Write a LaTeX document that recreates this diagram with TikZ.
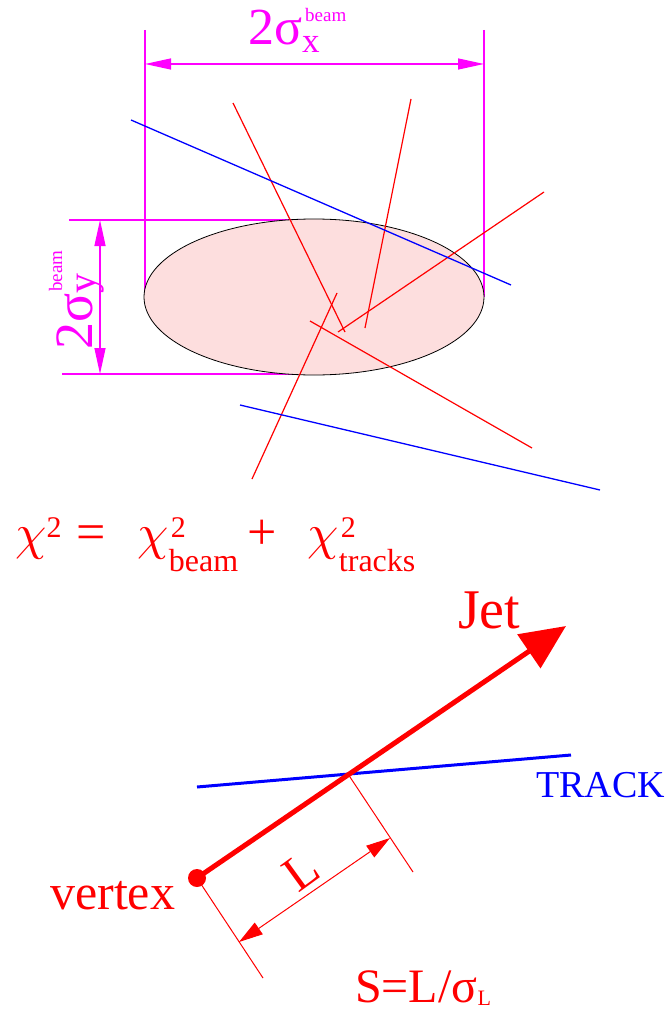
\documentclass[tikz,border=0pt]{standalone}
\usepackage{graphicx}
\usepackage{fontspec}
\setmainfont{Liberation Serif}
\usetikzlibrary{arrows.meta}
\definecolor{dimcol}{rgb}{1,0,1}
\definecolor{spotfill}{RGB}{253,222,222}
\newcommand{\fs}[1]{\fontsize{#1}{#1}\selectfont}
\newcommand{\putat}[2]{\rlap{\hspace{#1pt}#2}}
\newcommand{\chisym}{\scalebox{5}{\fs{10}$\chi$}}
\newcommand{\chisub}[2]{\rlap{\raisebox{12pt}{\fs{30}\hspace{2pt}#2}}\raisebox{-22pt}{\fs{32}#1}}
\tikzset{
  dimline/.style={dimcol, line width=1.3pt},
  dimarrow/.style={dimline, {Triangle[length=26pt,width=11pt]}-{Triangle[length=26pt,width=11pt]}},
  trk/.style={red, line width=1.2pt},
  btrk/.style={blue, line width=1.3pt},
  lbl/.style={anchor=base west, inner sep=0pt},
}
\begin{document}
\begin{tikzpicture}[x=1pt, y=-1pt]
    \useasboundingbox (0,0) rectangle (670,1011);

    % beam spot
    \coordinate (xl) at (145,30);
    \coordinate (xr) at (484,30);
    \coordinate (xlb) at (145,297);
    \coordinate (xrb) at (484,297);
    \coordinate (yt) at (69,220);
    \coordinate (yte) at (315,220);
    \coordinate (yb) at (62,374);
    \coordinate (ybe) at (324,374);
    \draw[dimline] (xl) -- (xlb);
    \draw[dimline] (xr) -- (xrb);
    \draw[dimline] (yt) -- (yte);
    \draw[dimline] (yb) -- (ybe);
    \draw[dimarrow] (145,64) coordinate (ax1) -- (484,64) coordinate (ax2);
    \draw[dimarrow] (100,220) coordinate (ay1) -- (100,374) coordinate (ay2);
    \filldraw[fill=spotfill, draw=black, line width=0.8pt]
        (314,297) ellipse [x radius=170pt, y radius=78pt];

    \node[lbl, dimcol] (sigx) at (248,45)
        {\fs{52}2σ\rlap{\raisebox{-8pt}{\fs{35}x}}\hspace{3pt}\raisebox{23pt}{\fs{19}beam}};
    \node[lbl, dimcol, rotate=90] (sigy) at (92,350)
        {\fs{54}2σ\rlap{\raisebox{-3pt}{\fs{40}y}}\hspace{2pt}\raisebox{30pt}{\fs{19}beam}};

    % tracks
    \draw[trk] (233,103) coordinate (ta1) -- (345,332) coordinate (ta2);
    \draw[trk] (411,99) coordinate (tb1) -- (365,328) coordinate (tb2);
    \draw[trk] (544,192) coordinate (tc1) -- (338,332) coordinate (tc2);
    \draw[trk] (337,293) coordinate (td1) -- (252,479) coordinate (td2);
    \draw[trk] (310,321) coordinate (te1) -- (532,448) coordinate (te2);
    \draw[btrk] (131,120) coordinate (tf1) -- (511,285) coordinate (tf2);
    \draw[btrk] (240,405) coordinate (tg1) -- (600,490) coordinate (tg2);

    \node[lbl, red] (chisq) at (15,549)
        {\fs{52}\putat{0}{\chisym}\putat{31}{\raisebox{12pt}{\fs{30}2}}\putat{61}{=}%
         \putat{122}{\chisym\chisub{beam}{2}}\putat{232}{+}\putat{292}{\chisym\chisub{tracks}{2}}%
         \hspace{410pt}};

    % jet and decay length
    \coordinate (vtx) at (197,878);
    \coordinate (jettip) at (566,626);
    \coordinate (cross) at (348,774);
    \coordinate (trk1) at (197,787);
    \coordinate (trk2) at (571,755);
    \coordinate (vtxp) at (263,978);
    \coordinate (crossp) at (413,872);
    \coordinate (lstart) at (239,942);
    \coordinate (lend) at (390,838);

    \draw[blue, line width=3pt] (trk1) -- (trk2);
    \draw[red, line width=5pt, -{Triangle[length=45pt,width=40pt]}] (vtx) -- (jettip);
    \fill[red] (vtx) circle (9pt);
    \draw[red, line width=1pt] (vtx) -- (vtxp);
    \draw[red, line width=1pt] (cross) -- (crossp);
    \draw[red, line width=1pt, {Triangle[length=24pt,width=14pt]}-{Triangle[length=24pt,width=14pt]}] (lstart) -- (lend);

    \node[lbl, red] (jet) at (458,628) {\fs{56}Jet};
    \node[lbl, blue] (track) at (536,797) {\fs{38}TRACK};
    \node[lbl, red] (vertex) at (50,909) {\fs{50}vertex};
    \node[red, rotate=36, inner sep=0pt] (llbl) at (301,871) {\fs{50}L};
    \node[lbl, red] (signif) at (355,1002) {\fs{48}S=L/σ\raisebox{-3pt}{\fs{22}L}};
\end{tikzpicture}
\end{document}
